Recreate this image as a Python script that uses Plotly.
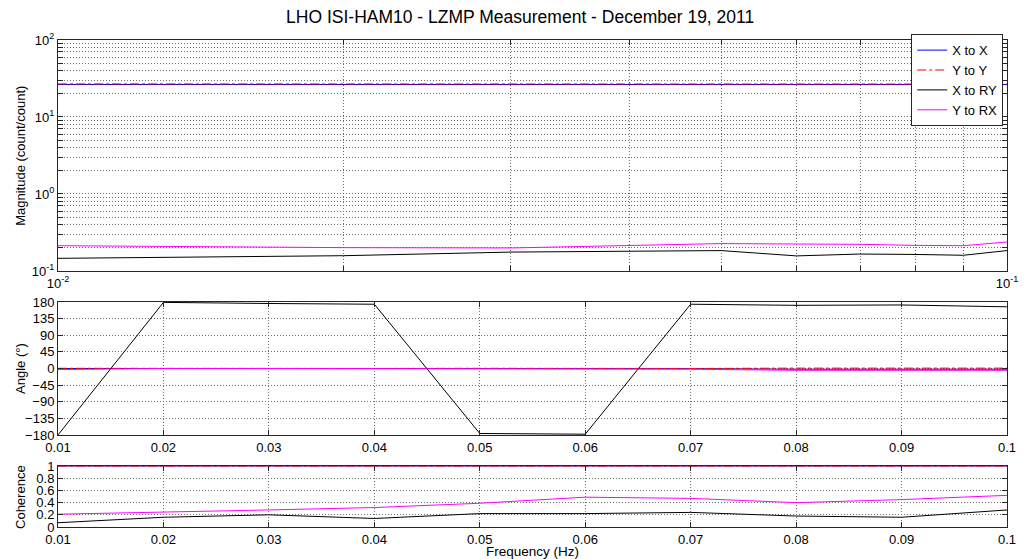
import plotly.graph_objects as go

# Данные (частоты и передаточные функции)
freq = [0.01, 0.02, 0.03, 0.04, 0.05, 0.06, 0.07, 0.08, 0.09, 0.10]

mag_x_x = [26.4, 26.4, 26.5, 26.4, 26.4, 26.5, 26.4, 26.4, 26.5, 26.4]
mag_y_y = [26.9, 26.8, 26.9, 26.8, 26.9, 26.8, 26.9, 26.8, 26.9, 26.8]
mag_x_ry = [0.146, 0.158, 0.176, 0.182, 0.184, 0.157, 0.166, 0.164, 0.160, 0.184]
mag_y_rx = [0.213, 0.201, 0.199, 0.216, 0.227, 0.224, 0.222, 0.215, 0.213, 0.238]

ang_x_x = [0, 0, 0.5, 0, 0, 0, -0.5, -2, -2, -2]
ang_y_y = [0.5, 0, 0.5, 0, 0.5, 0, 0, 1, 1, 1]
ang_x_ry = [-180, 179, 176, 174, -176, -178, 174, 171, 172, 167]
ang_y_rx = [-3, 0, 0, 0, -1, -1, -2, -5, -6, -5]

coh_x_x = [0.999, 0.999, 0.999, 0.999, 0.999, 0.999, 0.999, 0.999, 0.999, 0.999]
coh_y_y = [0.999, 0.999, 0.999, 0.999, 0.999, 0.999, 0.999, 0.999, 0.999, 0.999]
coh_x_ry = [0.07, 0.16, 0.20, 0.14, 0.22, 0.22, 0.24, 0.18, 0.16, 0.28]
coh_y_rx = [0.21, 0.24, 0.28, 0.32, 0.39, 0.49, 0.47, 0.40, 0.45, 0.52]

names = ['X to X', 'Y to Y', 'X to RY', 'Y to RX']
colors = ['#0000ff', '#ff0000', '#000000', '#ff00ff']
dashes = ['solid', 'dashdot', 'solid', 'solid']

# Подписи осей
mag_tickvals = [m * 10.0 ** e for e in (-1, 0, 1) for m in range(1, 10)] + [100]
mag_ticktext = ['10<sup>-1</sup>'] + [''] * 8 + ['10<sup>0</sup>'] + [''] * 8 + \
               ['10<sup>1</sup>'] + [''] * 8 + ['10<sup>2</sup>']
logx_ticktext = ['10<sup>-2</sup>'] + [''] * 8 + ['10<sup>-1</sup>']
lin_ticktext = ['0.01', '0.02', '0.03', '0.04', '0.05', '0.06', '0.07', '0.08', '0.09', '0.1']
ang_ticks = [-180, -135, -90, -45, 0, 45, 90, 135, 180]
coh_ticks = [0, 0.2, 0.4, 0.6, 0.8, 1]

fig = go.Figure()

groups = [
    ('x', 'y', [mag_x_x, mag_y_y, mag_x_ry, mag_y_rx], True),
    ('x2', 'y2', [ang_x_x, ang_y_y, ang_x_ry, ang_y_rx], False),
    ('x3', 'y3', [coh_x_x, coh_y_y, coh_x_ry, coh_y_rx], False),
]
for xa, ya, series, legend in groups:
    for name, col, dash, vals in zip(names, colors, dashes, series):
        fig.add_trace(go.Scatter(
            x=freq, y=vals, name=name, mode='lines',
            line=dict(color=col, width=1, dash=dash),
            showlegend=legend, xaxis=xa, yaxis=ya
        ))

grid = dict(showgrid=True, gridcolor='#6e6e6e', griddash='1px,2px', gridwidth=1,
            showline=True, linecolor='#262626', linewidth=1, mirror='ticks',
            ticks='inside', ticklen=5, tickcolor='#262626', zeroline=False,
            tickfont=dict(size=13, color='#000000'))

fig.update_layout(
    width=1028, height=559,
    margin=dict(l=58, r=10, t=40, b=32),
    paper_bgcolor='white', plot_bgcolor='white',
    font=dict(family='Liberation Sans, Arial, sans-serif', color='#000000', size=13),
    title=dict(text='LHO ISI-HAM10 - LZMP Measurement - December 19, 2011',
               x=0.506, xref='container', y=0.9696, yref='container',
               xanchor='center', yanchor='middle', font=dict(size=17.5)),
    xaxis=dict(type='log', range=[-2, -1], domain=[0, 1], anchor='y',
               tickvals=freq, ticktext=logx_ticktext, **grid),
    yaxis=dict(type='log', range=[-1, 2], domain=[0.5257, 1], anchor='x',
               tickvals=mag_tickvals, ticktext=mag_ticktext, **grid),
    xaxis2=dict(range=[0.01, 0.1], domain=[0, 1], anchor='y2',
                tickvals=freq, ticktext=lin_ticktext, **grid),
    yaxis2=dict(range=[-180, 180], domain=[0.189, 0.462], anchor='x2',
                tickvals=ang_ticks, **grid),
    xaxis3=dict(range=[0.01, 0.1], domain=[0, 1], anchor='y3',
                tickvals=freq, ticktext=lin_ticktext, **grid),
    yaxis3=dict(range=[0, 1], domain=[0, 0.125], anchor='x3',
                tickvals=coh_ticks, ticktext=['0', '0.2', '0.4', '0.6', '0.8', '1'], **grid),
    legend=dict(x=0.996, y=1.012, xanchor='right', yanchor='top',
                bgcolor='white', bordercolor='#262626', borderwidth=1,
                font=dict(size=13), itemwidth=30, tracegroupgap=0),
)

# Подписи осей Y (одинаковое положение слева)
for text, ymid in [('Magnitude (count/count)', 0.763), ('Angle (°)', 0.3255), ('Coherence', 0.0625)]:
    fig.add_annotation(text=text, textangle=-90, xref='paper', yref='paper',
                       x=-0.0396, y=ymid, xanchor='center', yanchor='middle',
                       showarrow=False, font=dict(size=13))

fig.add_annotation(text='Frequency (Hz)', xref='paper', yref='paper',
                   x=0.5, y=-0.0513, xanchor='center', yanchor='middle',
                   showarrow=False, font=dict(size=13.5))

# убираем стандартный отступ body, чтобы фигура заняла всё окно
fig.write_html("out.html", config={'displayModeBar': False},
               post_script="document.body.style.margin='0';")
